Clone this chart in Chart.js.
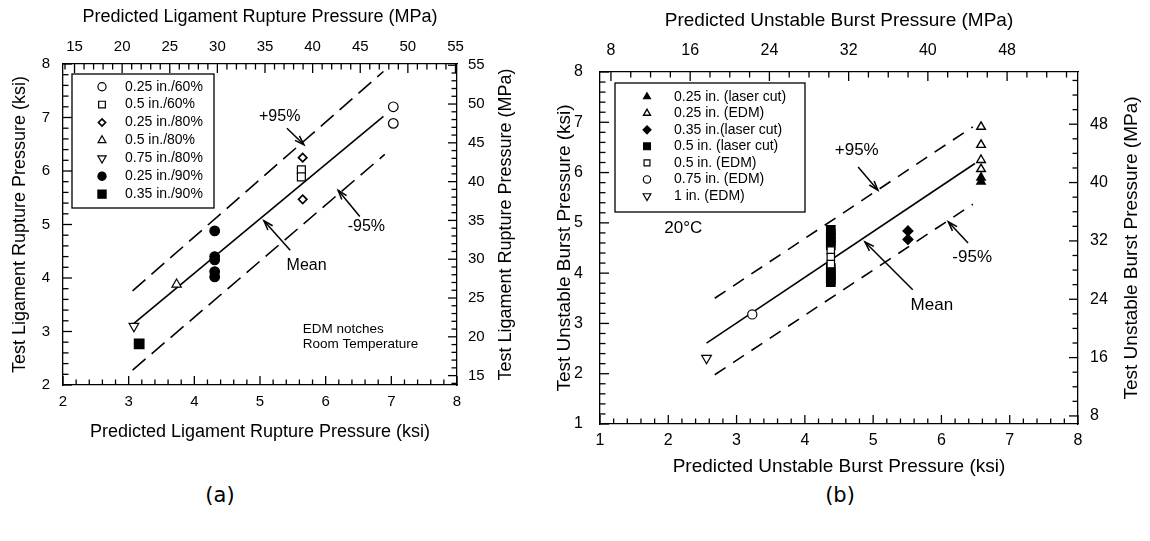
<!DOCTYPE html>
<html>
<head>
<meta charset="utf-8">
<script src="https://cdn.jsdelivr.net/npm/chart.js@4/dist/chart.umd.min.js"></script>
<style>
  html, body { margin: 0; padding: 0; background: #fff; width: 1150px; height: 541px; overflow: hidden; }
  #boxA { position: absolute; left: 0; top: 0; }
  #boxB { position: absolute; left: 553px; top: 0; }
  .cap { position: absolute; top: 495px; transform: translate(-50%, -50%); font: 21px "DejaVu Sans", sans-serif; color: #000; }
</style>
</head>
<body>
<div id="boxA"><canvas id="chartA" width="530" height="443"></canvas></div>
<div id="boxB"><canvas id="chartB" width="597" height="478"></canvas></div>
<div class="cap" style="left:220px">(a)</div>
<div class="cap" style="left:840px">(b)</div>
<script>
const FONT = "'Liberation Sans', Arial, sans-serif";
const KSI_TO_MPA = 6.895;

// ---- (a) ligament rupture: predicted (x) vs test (y), ksi ----
const ligSeries = ['0.25 in./60%', '0.5 in./60%', '0.25 in./80%', '0.5 in./80%', '0.75 in./80%', '0.25 in./90%', '0.35 in./90%'];
const ligPredicted = [[7.03, 7.03], [5.63, 5.63], [5.65, 5.65], [3.73], [3.08], [4.31, 4.31, 4.31, 4.31, 4.31], [3.16]];
const ligTest = [[7.20, 6.89], [6.02, 5.89], [6.25, 5.47], [3.88], [3.10], [4.88, 4.40, 4.34, 4.12, 4.02], [2.77]];
const ligMeanX = [3.08, 6.88], ligMeanY = [3.15, 7.02];
const ligUpperX = [3.06, 6.88], ligUpperY = [3.76, 7.86];
const ligLowerX = [3.06, 6.90], ligLowerY = [2.28, 6.31];
const ligKsiTicks = [2, 3, 4, 5, 6, 7, 8];
const ligMpaTicks = [15, 20, 25, 30, 35, 40, 45, 50, 55];

// ---- (b) unstable burst: predicted (x) vs test (y), ksi ----
const burstSeries = ['0.25 in. (laser cut)', '0.25 in. (EDM)', '0.35 in.(laser cut)', '0.5 in. (laser cut)', '0.5 in. (EDM)', '0.75 in. (EDM)', '1 in. (EDM)'];
const burstPredicted = [[6.58, 6.58], [6.58, 6.58, 6.58, 6.58], [5.51, 5.51],
  [4.38, 4.38, 4.38, 4.38, 4.38, 4.38, 4.38, 4.38, 4.38, 4.38], [4.38, 4.38, 4.38], [3.23], [2.56]];
const burstTest = [[5.90, 5.82], [6.91, 6.55, 6.25, 6.07], [4.84, 4.67],
  [4.86, 4.78, 4.70, 4.62, 4.55, 4.10, 4.02, 3.94, 3.87, 3.82], [4.45, 4.32, 4.18], [3.18], [2.31]];
const burstMeanX = [2.56, 6.49], burstMeanY = [2.61, 6.18];
const burstUpperX = [2.68, 6.46], burstUpperY = [3.50, 6.91];
const burstLowerX = [2.68, 6.46], burstLowerY = [1.98, 5.37];
const burstKsiTicks = [1, 2, 3, 4, 5, 6, 7, 8];
const burstMpaTicks = [8, 16, 24, 32, 40, 48];

// marker looks (kept apart from the values)
const ligLook = [
  { pointStyle: 'circle', filled: false, r: 4.8 },
  { pointStyle: 'rect', filled: false, r: 5.6 },
  { pointStyle: 'rectRot', filled: false, r: 4.2, bw: 1.7 },
  { pointStyle: 'triangle', filled: false, r: 5.4 },
  { pointStyle: 'triangle', filled: false, r: 5.6, rot: 180 },
  { pointStyle: 'circle', filled: true, r: 4.8 },
  { pointStyle: 'rect', filled: true, r: 6.8 }
];
const burstLook = [
  { pointStyle: 'triangle', filled: true, r: 5 },
  { pointStyle: 'triangle', filled: false, r: 5, bw: 1.4 },
  { pointStyle: 'rectRot', filled: true, r: 5 },
  { pointStyle: 'rect', filled: true, r: 6 },
  { pointStyle: 'rect', filled: false, r: 5.2, order: -1 },
  { pointStyle: 'circle', filled: false, r: 4.6 },
  { pointStyle: 'triangle', filled: false, r: 5.6, rot: 180 }
];

const pts = (xs, ys) => xs.map((x, i) => ({ x, y: ys[i] }));

function markerSets(labels, xs, ys, looks) {
  return labels.map((label, i) => ({
    label,
    data: pts(xs[i], ys[i]),
    pointStyle: looks[i].pointStyle,
    pointRotation: looks[i].rot || 0,
    pointRadius: looks[i].r,
    borderWidth: looks[i].bw || 1.2,
    borderColor: '#000',
    backgroundColor: looks[i].filled ? '#000' : '#fff',
    order: looks[i].order || 0,
    marker: true
  }));
}

function lineSet(label, xs, ys, dash) {
  return {
    label, data: pts(xs, ys), showLine: true, pointRadius: 0,
    borderColor: '#000', borderWidth: 1.6, borderDash: dash, order: 10, marker: false
  };
}

function axis(position, min, max, tickVals, size, pad, fit, titleText, titleSize) {
  const horiz = position === 'top' || position === 'bottom';
  return {
    type: 'linear', position, min, max, bounds: 'data',
    grid: { display: false, drawTicks: false },
    border: { display: true, color: '#000', width: 1.3 },
    ticks: { color: '#000', font: { family: FONT, size }, padding: pad, autoSkip: false, maxRotation: 0 },
    afterBuildTicks: s => { s.ticks = tickVals.map(v => ({ value: v })); },
    afterFit: s => { if (horiz) s.height = fit; else s.width = fit; },
    title: { display: !!titleText, text: titleText || '', color: '#000', font: { family: FONT, size: titleSize }, padding: 0 }
  };
}

// extra drawing for each canvas: inward ticks, notes, arrows, boxed legend, right title
const decorSpec = {
  chartA: {
    tickMarks: [
      { id: 'x', pos: 'bottom', major: 1, minor: 0.2 }, { id: 'y', pos: 'left', major: 1, minor: 0.2 },
      { id: 'x2', pos: 'top', major: 5, minor: 1 }, { id: 'y2', pos: 'right', major: 5, minor: 1 }
    ],
    notes: [
      { text: '+95%', x: 5.30, y: 7.01, size: 16 },
      { text: '-95%', x: 6.62, y: 4.96, size: 16 },
      { text: 'Mean', x: 5.71, y: 4.24, size: 16 },
      { text: 'EDM notches', x: 5.65, y: 3.05, size: 13.5, align: 'left' },
      { text: 'Room Temperature', x: 5.65, y: 2.77, size: 13.5, align: 'left' }
    ],
    arrows: [[5.41, 6.80, 5.67, 6.49], [6.52, 5.15, 6.19, 5.64], [5.46, 4.52, 5.06, 5.07]],
    legend: { dx: 9, dy: 10, w: 142, h: 134, first: 22.7, step: 17.9, mx: 39, tx: 62, size: 14, scale: 0.85 },
    rightTitle: { text: 'Test Ligament Rupture Pressure (MPa)', dx: 49, size: 18 }
  },
  chartB: {
    tickMarks: [
      { id: 'x', pos: 'bottom', major: 1, minor: 0.2 }, { id: 'y', pos: 'left', major: 1, minor: 0.2 },
      { id: 'x2', pos: 'top', major: 8, minor: 2 }, { id: 'y2', pos: 'right', major: 8, minor: 2 }
    ],
    notes: [
      { text: '+95%', x: 4.76, y: 6.45, size: 17 },
      { text: '-95%', x: 6.45, y: 4.32, size: 17 },
      { text: 'Mean', x: 5.86, y: 3.37, size: 17 },
      { text: '20°C', x: 2.22, y: 4.90, size: 17 }
    ],
    arrows: [[4.78, 6.11, 5.07, 5.65], [6.39, 4.60, 6.10, 5.02], [5.58, 3.67, 4.88, 4.62]],
    legend: { dx: 15, dy: 11, w: 190, h: 129, first: 24.7, step: 16.55, mx: 47, tx: 74, size: 14, scale: 0.8 },
    rightTitle: { text: 'Test Unstable Burst Pressure (MPa)', dx: 54, size: 19 }
  }
};

const decor = {
  id: 'decor',
  afterDraw(chart) {
    const o = decorSpec[chart.canvas.id];
    const ctx = chart.ctx, a = chart.chartArea;
    const sx = chart.scales.x, sy = chart.scales.y;
    ctx.save();
    ctx.setLineDash([]);
    ctx.strokeStyle = '#000';
    ctx.fillStyle = '#000';
    ctx.lineWidth = 1.3;
    o.tickMarks.forEach(t => {
      const s = chart.scales[t.id];
      const i0 = Math.ceil(s.min / t.minor - 1e-6), i1 = Math.floor(s.max / t.minor + 1e-6);
      for (let i = i0; i <= i1; i++) {
        const v = i * t.minor, r = v / t.major;
        const len = Math.abs(r - Math.round(r)) < 1e-6 ? 9 : 5.5;
        const p = s.getPixelForValue(v);
        ctx.beginPath();
        if (t.pos === 'bottom') { ctx.moveTo(p, a.bottom); ctx.lineTo(p, a.bottom - len); }
        else if (t.pos === 'top') { ctx.moveTo(p, a.top); ctx.lineTo(p, a.top + len); }
        else if (t.pos === 'left') { ctx.moveTo(a.left, p); ctx.lineTo(a.left + len, p); }
        else { ctx.moveTo(a.right, p); ctx.lineTo(a.right - len, p); }
        ctx.stroke();
      }
    });

    ctx.textBaseline = 'middle';
    o.notes.forEach(n => {
      ctx.font = n.size + 'px ' + FONT;
      ctx.textAlign = n.align || 'center';
      ctx.fillText(n.text, sx.getPixelForValue(n.x), sy.getPixelForValue(n.y));
    });

    ctx.lineWidth = 1.5;
    o.arrows.forEach(r => {
      const x1 = sx.getPixelForValue(r[0]), y1 = sy.getPixelForValue(r[1]);
      const x2 = sx.getPixelForValue(r[2]), y2 = sy.getPixelForValue(r[3]);
      const ang = Math.atan2(y2 - y1, x2 - x1), h = 10, w = 0.32;
      ctx.beginPath(); ctx.moveTo(x1, y1); ctx.lineTo(x2, y2); ctx.stroke();
      ctx.beginPath();
      ctx.moveTo(x2 - h * Math.cos(ang - w), y2 - h * Math.sin(ang - w));
      ctx.lineTo(x2, y2);
      ctx.lineTo(x2 - h * Math.cos(ang + w), y2 - h * Math.sin(ang + w));
      ctx.stroke();
    });

    // legend
    const L = o.legend;
    ctx.lineWidth = 1.3;
    ctx.strokeRect(a.left + L.dx, a.top + L.dy, L.w, L.h);
    ctx.font = L.size + 'px ' + FONT;
    ctx.textAlign = 'left';
    chart.data.datasets.filter(d => d.marker).forEach((d, i) => {
      const y = a.top + L.first + i * L.step;
      ctx.fillStyle = d.backgroundColor;
      ctx.strokeStyle = d.borderColor;
      ctx.lineWidth = d.borderWidth;
      Chart.helpers.drawPoint(ctx, {
        pointStyle: d.pointStyle, rotation: d.pointRotation, radius: d.pointRadius * L.scale, borderWidth: d.borderWidth
      }, a.left + L.mx, y);
      ctx.fillStyle = '#000';
      ctx.fillText(d.label, a.left + L.tx, y);
    });

    // right axis title, reading upward
    const T = o.rightTitle;
    ctx.font = T.size + 'px ' + FONT;
    ctx.textAlign = 'center';
    ctx.translate(a.right + T.dx, (a.top + a.bottom) / 2);
    ctx.rotate(-Math.PI / 2);
    ctx.fillText(T.text, 0, 0);
    ctx.restore();
  }
};

const common = {
  responsive: false, animation: false, events: [],
  plugins: { legend: { display: false }, tooltip: { enabled: false } }
};

new Chart(document.getElementById('chartA'), {
  type: 'scatter',
  data: {
    datasets: [
      ...markerSets(ligSeries, ligPredicted, ligTest, ligLook),
      lineSet('Mean', ligMeanX, ligMeanY, []),
      lineSet('+95%', ligUpperX, ligUpperY, [17, 8]),
      lineSet('-95%', ligLowerX, ligLowerY, [17, 8])
    ]
  },
  options: {
    ...common,
    layout: { padding: { left: 9, top: 6, right: 0, bottom: 0 } },
    scales: {
      x: axis('bottom', 2, 8, ligKsiTicks, 15, 8, 58, 'Predicted Ligament Rupture Pressure (ksi)', 18),
      x2: axis('top', 2 * KSI_TO_MPA, 8 * KSI_TO_MPA, ligMpaTicks, 15, 8, 58, 'Predicted Ligament Rupture Pressure (MPa)', 18),
      y: axis('left', 2, 8, ligKsiTicks, 15, 13, 54, 'Test Ligament Rupture Pressure (ksi)', 18),
      y2: axis('right', 2 * KSI_TO_MPA, 8 * KSI_TO_MPA, ligMpaTicks, 15, 11, 73, '', 18)
    }
  },
  plugins: [decor]
});

new Chart(document.getElementById('chartB'), {
  type: 'scatter',
  data: {
    datasets: [
      ...markerSets(burstSeries, burstPredicted, burstTest, burstLook),
      lineSet('Mean', burstMeanX, burstMeanY, []),
      lineSet('+95%', burstUpperX, burstUpperY, [13, 9]),
      lineSet('-95%', burstLowerX, burstLowerY, [13, 9])
    ]
  },
  options: {
    ...common,
    layout: { padding: { left: 0, top: 9, right: 0, bottom: 0 } },
    scales: {
      x: axis('bottom', 1, 8, burstKsiTicks, 16, 7, 54, 'Predicted Unstable Burst Pressure (ksi)', 19),
      x2: axis('top', 1 * KSI_TO_MPA, 8 * KSI_TO_MPA, burstMpaTicks, 16, 12, 63, 'Predicted Unstable Burst Pressure (MPa)', 19),
      y: axis('left', 1, 8, burstKsiTicks, 16, 17, 47, 'Test Unstable Burst Pressure (ksi)', 19),
      y2: axis('right', 1 * KSI_TO_MPA, 8 * KSI_TO_MPA, burstMpaTicks, 16, 12, 72, '', 19)
    }
  },
  plugins: [decor]
});
</script>
</body>
</html>
